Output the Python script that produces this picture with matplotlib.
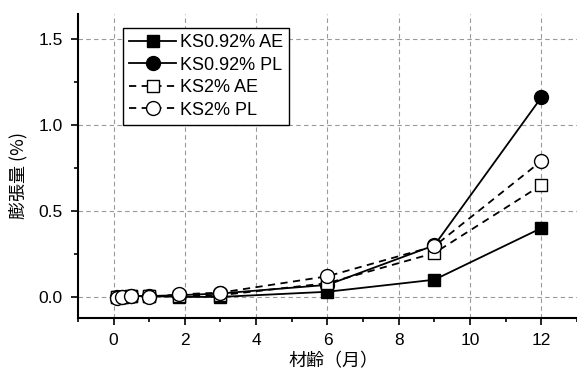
import matplotlib
matplotlib.use("Agg")
import matplotlib.pyplot as plt
from matplotlib.ticker import MultipleLocator

plt.rcParams['font.family'] = ['Liberation Sans', 'Noto Sans CJK JP', 'DejaVu Sans']

months = [0.1, 0.25, 0.5, 1.0, 1.85, 3.0, 6.0, 9.0, 12.0]
ks092_ae = [0.0, 0.0, 0.005, 0.005, 0.0, 0.0, 0.03, 0.10, 0.40]
ks092_pl = [0.0, 0.0, 0.005, 0.005, 0.01, 0.02, 0.07, 0.30, 1.16]
ks2_ae = [0.0, 0.0, 0.005, 0.005, 0.005, 0.01, 0.08, 0.255, 0.65]
ks2_pl = [-0.005, 0.0, 0.005, 0.0, 0.015, 0.025, 0.12, 0.295, 0.79]
labels = ['KS0.92% AE', 'KS0.92% PL', 'KS2% AE', 'KS2% PL']
xticks = [0, 2, 4, 6, 8, 10, 12]
yticks = [0.0, 0.5, 1.0, 1.5]

fig = plt.figure(figsize=(5.77, 3.74), dpi=100)
ax = fig.add_axes([0.135, 0.150, 0.865, 0.8126])

ax.plot(months, ks092_ae, '-', color='black', lw=1.3, marker='s', ms=9,
        mfc='black', mec='black', label=labels[0], zorder=3)
ax.plot(months, ks092_pl, '-', color='black', lw=1.3, marker='o', ms=10,
        mfc='black', mec='black', label=labels[1], zorder=3)
ax.plot(months, ks2_ae, '--', color='black', lw=1.3, marker='s', ms=9,
        mfc='white', mec='black', mew=1.0, label=labels[2], zorder=4, dashes=(4, 3))
ax.plot(months, ks2_pl, '--', color='black', lw=1.3, marker='o', ms=10,
        mfc='white', mec='black', mew=1.0, label=labels[3], zorder=4, dashes=(4, 3))

ax.set_xlim(-1, 13)
ax.set_ylim(-0.122, 1.645)
ax.set_xticks(xticks)
ax.set_yticks(yticks)
ax.set_yticklabels([f'{v:.1f}' for v in yticks])
ax.xaxis.set_minor_locator(MultipleLocator(1))
ax.yaxis.set_minor_locator(MultipleLocator(0.25))
ax.tick_params(axis='both', which='major', direction='out', length=5, width=1.2,
               labelsize=12.5, pad=6)
ax.tick_params(axis='both', which='minor', direction='out', length=3, width=1.2)

for s in ['top', 'right']:
    ax.spines[s].set_visible(False)
for s in ['left', 'bottom']:
    ax.spines[s].set_linewidth(1.5)

ax.grid(True, which='major', color='#999999', linestyle=(0, (4, 3)), lw=0.8)
ax.set_axisbelow(True)

ax.set_xlabel('材齢（月）', family=['Noto Sans CJK JP'], fontsize=13)
ax.set_ylabel('膨張量 (%)', family=['Noto Sans CJK JP'], fontsize=13)
ax.xaxis.set_label_coords(0.512, -0.112)
ax.yaxis.set_label_coords(-0.102, 0.47)

leg = ax.legend(loc='upper left', bbox_to_anchor=(0.090, 0.954), fontsize=13,
                frameon=True, fancybox=False, edgecolor='black', framealpha=1,
                handlelength=2.6, handletextpad=0.2, borderpad=0.35, labelspacing=0.3,
                borderaxespad=0)
leg.get_frame().set_linewidth(1.0)

fig.savefig('out.png', dpi=100)
